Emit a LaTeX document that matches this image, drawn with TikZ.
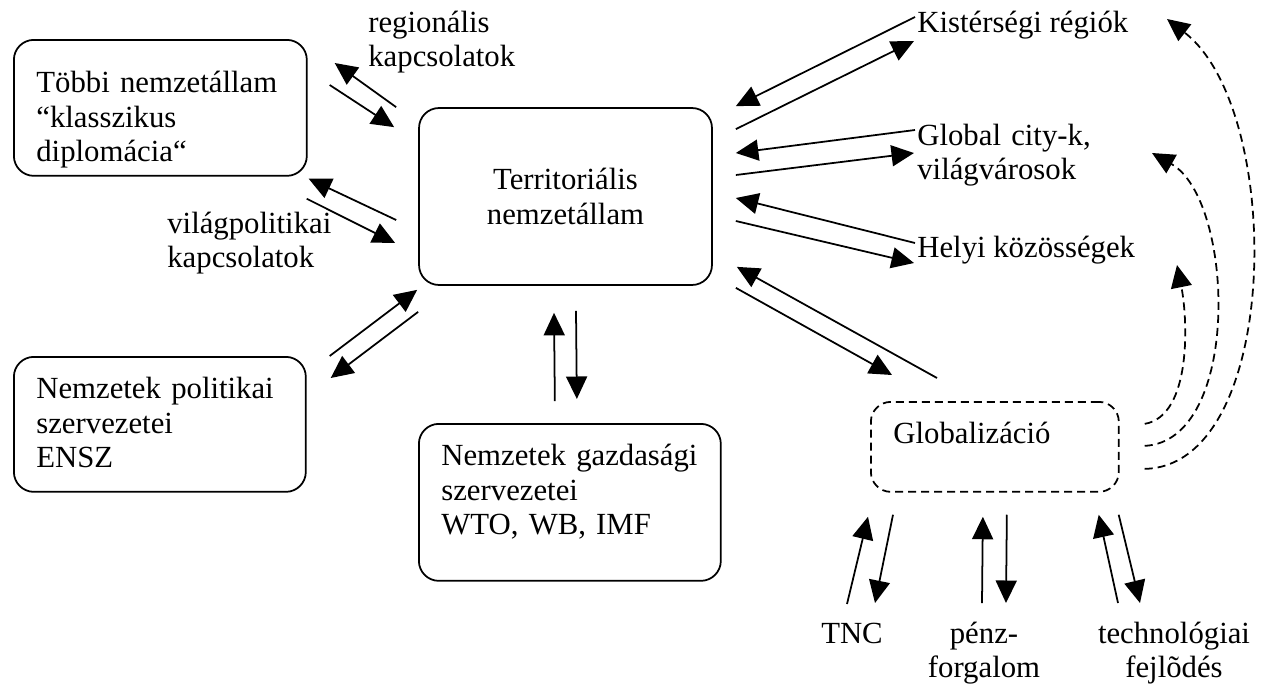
\documentclass[tikz,border=0pt]{standalone}
\usepackage{fontspec}
\setmainfont{Liberation Serif}
\usetikzlibrary{arrows.meta,calc}

\begin{document}
\begin{tikzpicture}[x=0.02cm,y=-0.02cm,
    font=\fontsize{17.5}{19.6}\selectfont,
    rbox/.style={draw,line width=1pt,rounded corners=0.4cm},
    tbox/.style={rbox,anchor=north west,align=left,inner xsep=0.45cm,inner ysep=0pt},
    lbl/.style={inner sep=0pt,align=left},
    pfeil/.style={-{Triangle[length=0.45cm,width=0.42cm]},line width=1pt},
    szagg/.style={pfeil,dash pattern=on 0.16cm off 0.1cm}]
  \useasboundingbox (0,0) rectangle (1261,683);

  % boxes
  \node[tbox,text width=4.96cm,text height=1.06cm,text depth=1.66cm] (tobbi) at (13,39)
    {Többi nemzetállam\\“klasszikus\\diplomácia“};
  \node[rbox,align=center,inner sep=0pt,minimum width=5.86cm,minimum height=3.54cm] (terr) at (565.5,196.5)
    {Territoriális\\nemzetállam};
  \node[tbox,text width=4.94cm,text height=0.84cm,text depth=1.86cm] (ensz) at (13,356)
    {Nemzetek politikai\\szervezetei\\ENSZ};
  \node[tbox,text width=5.14cm,text height=0.84cm,text depth=2.3cm] (wto) at (418,423)
    {Nemzetek gazdasági\\szervezetei\\WTO, WB, IMF};
  \node[tbox,dash pattern=on 0.16cm off 0.1cm,text width=4.06cm,text height=0.84cm,text depth=0.96cm] (glob) at (870,401)
    {Globalizáció};

  % labels
  \node[lbl,anchor=base west,text width=3.2cm] (reg) at (368,32) {regionális\\kapcsolatok};
  \node[lbl,anchor=base west,text width=3.2cm] (vpol) at (167,233) {világpolitikai\\kapcsolatok};
  \node[lbl,anchor=base west] (kis) at (917,32) {Kistérségi régiók};
  \node[lbl,anchor=base west,text width=4cm] (city) at (917,145) {Global city-k,\\világvárosok};
  \node[lbl,anchor=base west] (helyi) at (917,257) {Helyi közösségek};
  \node[lbl,anchor=base] (tnc) at (852,643) {TNC};
  \node[lbl,anchor=base,align=center,text width=3cm] (penz) at (984,643) {pénz-\\forgalom};
  \node[lbl,anchor=base,align=center,text width=3.4cm] (tech) at (1174,643) {technológiai\\fejlõdés};

  % Többi -- Territoriális
  \draw[pfeil] ($(terr.north west)+(-22,0)$) -- ($(tobbi.north east)+(27,24)$);
  \draw[pfeil] ($(tobbi.north east)+(22,46)$) -- ($(terr.north west)+(-24,20)$);
  \draw[pfeil] ($(terr.west)+(-22,23.5)$) -- ($(tobbi.south east)+(1,2)$);
  \draw[pfeil] ($(tobbi.south east)+(-1,22)$) -- ($(terr.west)+(-23,46.5)$);
  % ENSZ, WTO
  \draw[pfeil] ($(ensz.north east)+(23,0)$) -- ($(terr.south west)+(-1,4)$);
  \draw[pfeil] ($(terr.south west)+(0,26)$) -- ($(ensz.north east)+(24,22)$);
  \draw[pfeil] ($(wto.north)+(-15,-22)$) -- ($(terr.south)+(-11.5,27)$);
  \draw[pfeil] ($(terr.south)+(10.5,25)$) -- ($(wto.north)+(7,-24)$);
  % right side
  \draw[pfeil] ($(kis.base west)+(-2,-15)$) -- ($(terr.north east)+(23,-1)$);
  \draw[pfeil] ($(terr.north east)+(23,22)$) -- ($(kis.base west)+(-3,9)$);
  \draw[pfeil] ($(city.base west)+(-2,-15)$) -- ($(terr.east)+(23,-43.5)$);
  \draw[pfeil] ($(terr.east)+(23,-21.5)$) -- ($(city.base west)+(-3,8)$);
  \draw[pfeil] ($(helyi.base west)+(-2,-14)$) -- ($(terr.east)+(23,1.5)$);
  \draw[pfeil] ($(terr.east)+(23,24.5)$) -- ($(helyi.base west)+(-3,6)$);
  \draw[pfeil] ($(glob.north west)+(67,-23)$) -- ($(terr.south east)+(24,-19)$);
  \draw[pfeil] ($(terr.south east)+(23,2)$) -- ($(glob.north west)+(22,-26)$);
  % Globalizáció -- bottom
  \draw[pfeil] ($(tnc.base)+(-5,-39)$) -- ($(glob.south west)+(-2,24)$);
  \draw[pfeil] ($(glob.south west)+(23,22)$) -- ($(tnc.base)+(23,-40)$);
  \draw[pfeil] ($(penz.base)+(-2,-40)$) -- ($(glob.south)+(-12,24)$);
  \draw[pfeil] ($(glob.south)+(12,22)$) -- ($(penz.base)+(22,-40)$);
  \draw[pfeil] ($(tech.base)+(-56,-40)$) -- ($(glob.south east)+(-21,22)$);
  \draw[pfeil] ($(glob.south east)+(-1,22)$) -- ($(tech.base)+(-34,-40)$);
  % dashed
  \draw[szagg] ($(glob.east)+(25,-23)$) .. controls +(47,-8) and +(11,55) .. ($(helyi.base west)+(260,8)$);
  \draw[szagg] ($(glob.east)+(25,-1)$) .. controls +(97,-5) and +(83,47) .. ($(city.base west)+(235,8)$);
  \draw[szagg] ($(glob.east)+(25,22)$) .. controls +(137,-3) and +(118,91) .. ($(kis.base west)+(250,-13)$);
\end{tikzpicture}
\end{document}
